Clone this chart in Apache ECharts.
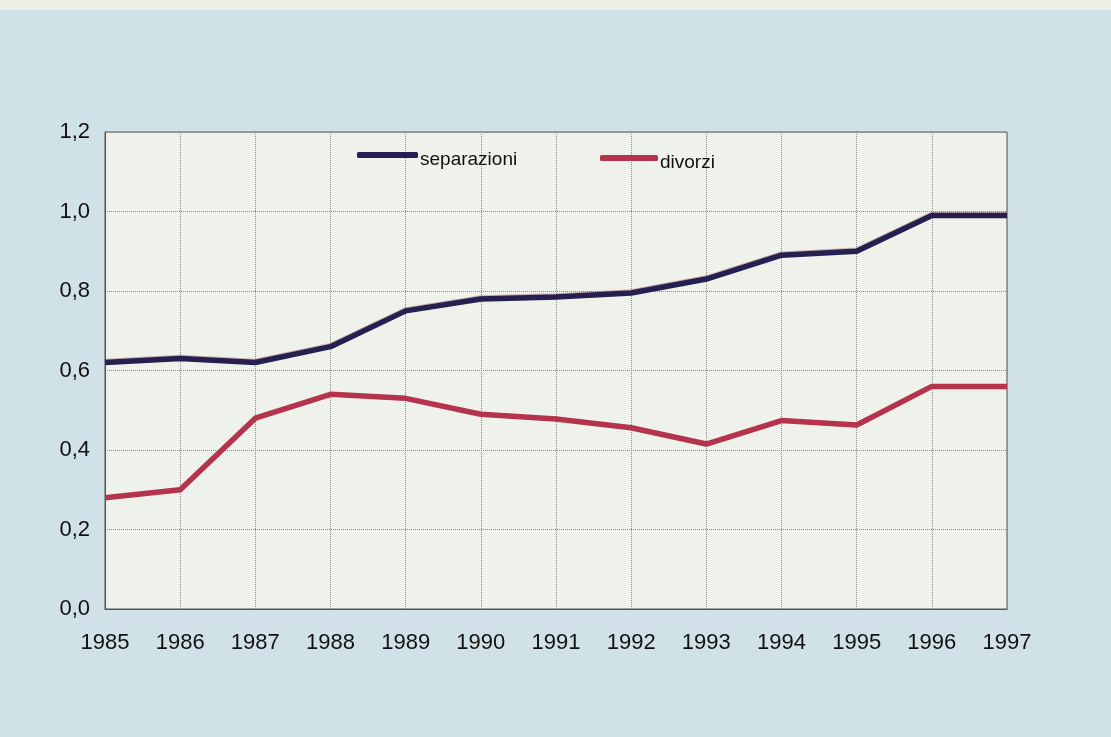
<!DOCTYPE html>
<html>
<head>
<meta charset="utf-8">
<script src="https://cdn.jsdelivr.net/npm/echarts@6/dist/echarts.min.js"></script>
<style>
html,body{margin:0;padding:0;background:#d1e1e8;}
#chart{width:1111px;height:737px;}
</style>
</head>
<body>
<div id="chart"></div>
<script>
const years = ['1985','1986','1987','1988','1989','1990','1991','1992','1993','1994','1995','1996','1997'];
const separazioni = [0.62, 0.63, 0.62, 0.66, 0.75, 0.78, 0.785, 0.795, 0.83, 0.89, 0.90, 0.99, 0.99];
const divorzi = [0.28, 0.30, 0.48, 0.54, 0.53, 0.49, 0.478, 0.456, 0.415, 0.474, 0.463, 0.56, 0.56];
const yTicks = [0, 0.2, 0.4, 0.6, 0.8, 1.0, 1.2];

const chart = echarts.init(document.getElementById('chart'));
const font = 'Liberation Sans, Arial, sans-serif';
const legendText = {
  fontFamily: font, fontSize: 19, color: '#111', padding: [0, 0, 0, -3],
  rich: { t: { fontFamily: font, fontSize: 19, color: '#111', padding: [9, 0, 0, 0] } }
};
chart.setOption({
  backgroundColor: '#d1e1e8',
  animation: false,
  graphic: [{
    type: 'rect', left: 0, top: 0, z: -10,
    shape: { width: 1111, height: 10 },
    style: { fill: '#eceee4' }
  }],
  grid: {
    left: 105, right: 104, top: 132, bottom: 128,
    show: true, backgroundColor: '#eef2ea', borderColor: '#555', borderWidth: 1
  },
  legend: [{
    data: ['separazioni'], left: 357, top: 150, icon: 'roundRect', padding: 0,
    itemWidth: 61, itemHeight: 6, itemGap: 0,
    formatter: '{t|{name}}', textStyle: legendText
  }, {
    data: ['divorzi'], left: 600, top: 153, icon: 'roundRect', padding: 0,
    itemWidth: 58, itemHeight: 6, itemGap: 0,
    formatter: '{t|{name}}', textStyle: legendText
  }],
  xAxis: {
    type: 'category', data: years, boundaryGap: false,
    axisLine: { lineStyle: { color: '#555', width: 1 } },
    axisTick: { show: false },
    axisLabel: { fontFamily: font, fontSize: 22, color: '#111', margin: 23 },
    splitLine: { show: true, lineStyle: { color: '#888', type: 'dotted', width: 1 } }
  },
  yAxis: {
    type: 'value', min: 0, max: 1.2, interval: 0.2,
    axisLine: { show: true, lineStyle: { color: '#555', width: 1 } },
    axisTick: { show: false },
    axisLabel: {
      fontFamily: font, fontSize: 22, color: '#111', margin: 15,
      formatter: v => {
        const t = yTicks.find(x => Math.abs(x - v) < 1e-6);
        return (t === undefined ? v : t).toFixed(1).replace('.', ',');
      }
    },
    splitLine: { show: true, lineStyle: { color: '#888', type: 'dotted', width: 1 } }
  },
  series: [{
    name: 'separazioni', type: 'line', data: separazioni,
    symbol: 'none', color: '#25204f',
    lineStyle: { width: 5.5, color: '#25204f', shadowColor: 'rgba(150,40,70,0.35)', shadowBlur: 0, shadowOffsetY: -1 }
  }, {
    name: 'divorzi', type: 'line', data: divorzi,
    symbol: 'none', color: '#b5334c',
    lineStyle: { width: 5.5, color: '#b5334c' }
  }]
});
</script>
</body>
</html>
